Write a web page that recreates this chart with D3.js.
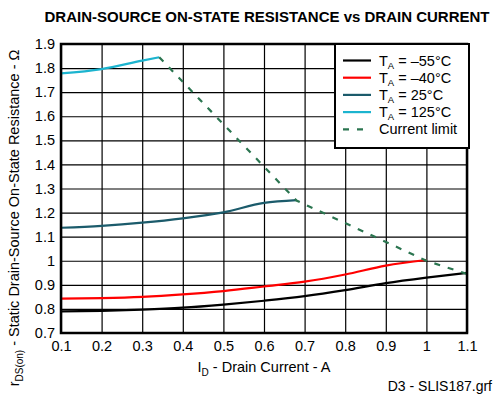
<!DOCTYPE html>
<html>
<head>
<meta charset="utf-8">
<script src="https://cdn.jsdelivr.net/npm/d3@7"></script>
<style>
  body { margin: 0; background: #fff; }
  text { font-family: "Liberation Sans", Arial, sans-serif; fill: #000; }
</style>
</head>
<body>
<div class="chart"></div>
<script>
// Drain current (A) and rDS(on) (ohm) for each ambient temperature
var xM55 = [0.1, 0.2, 0.3, 0.4, 0.5, 0.6, 0.7, 0.8, 0.9, 1.0, 1.1];
var yM55 = [0.79, 0.792, 0.797, 0.805, 0.818, 0.834, 0.853, 0.878, 0.907, 0.93, 0.95];

var xM40 = [0.1, 0.2, 0.3, 0.4, 0.5, 0.6, 0.7, 0.8, 0.9, 1.0];
var yM40 = [0.843, 0.845, 0.85, 0.86, 0.874, 0.893, 0.913, 0.943, 0.98, 1.003];

var x25 = [0.1, 0.2, 0.3, 0.4, 0.5, 0.6, 0.68];
var y25 = [1.137, 1.145, 1.158, 1.176, 1.201, 1.24, 1.252];

var x125 = [0.1, 0.2, 0.3, 0.342];
var y125 = [1.778, 1.796, 1.831, 1.845];

// current limit (dashed)
var xLimit = [0.342, 0.68, 1.0, 1.1];
var yLimit = [1.845, 1.25, 1.0, 0.945];

var xTicks = [0.1, 0.2, 0.3, 0.4, 0.5, 0.6, 0.7, 0.8, 0.9, 1.0, 1.1];
var xTickLabels = ["0.1", "0.2", "0.3", "0.4", "0.5", "0.6", "0.7", "0.8", "0.9", "1", "1.1"];
var yTicks = [0.7, 0.8, 0.9, 1.0, 1.1, 1.2, 1.3, 1.4, 1.5, 1.6, 1.7, 1.8, 1.9];
var yTickLabels = ["0.7", "0.8", "0.9", "1", "1.1", "1.2", "1.3", "1.4", "1.5", "1.6", "1.7", "1.8", "1.9"];

var legendTemps = ["\u201355\u00b0C", "\u201340\u00b0C", "25\u00b0C", "125\u00b0C"];

var svgWidth = 497;
var svgHeight = 400;
var margin = { top: 44, right: 30, bottom: 67, left: 61 };
var chartWidth = svgWidth - margin.left - margin.right;
var chartHeight = svgHeight - margin.top - margin.bottom;

var svg = d3.select(".chart")
  .append("svg")
  .attr("width", svgWidth)
  .attr("height", svgHeight);

var chartGroup = svg.append("g")
  .attr("transform", `translate(${margin.left}, ${margin.top})`);

var xScale = d3.scaleLinear().domain([0.1, 1.1]).range([0, chartWidth]);
var yScale = d3.scaleLinear().domain([0.7, 1.9]).range([chartHeight, 0]);

// grid
chartGroup.append("g")
  .attr("transform", "translate(0," + chartHeight + ")")
  .call(d3.axisBottom(xScale).tickValues(xTicks).tickSize(-chartHeight).tickFormat(""))
  .call(g => g.select(".domain").remove())
  .selectAll("line").attr("stroke", "#000").attr("stroke-width", 1.2);

chartGroup.append("g")
  .call(d3.axisLeft(yScale).tickValues(yTicks).tickSize(-chartWidth).tickFormat(""))
  .call(g => g.select(".domain").remove())
  .selectAll("line").attr("stroke", "#000").attr("stroke-width", 1.2);

// tick labels
var xAxis = chartGroup.append("g")
  .attr("transform", "translate(0," + chartHeight + ")")
  .call(d3.axisBottom(xScale).tickValues(xTicks).tickSize(0).tickPadding(8)
    .tickFormat((d, i) => xTickLabels[i]));
xAxis.select(".domain").remove();
xAxis.selectAll("text").style("font-size", "14.5px").style("font-family", "Liberation Sans, Arial, sans-serif");

var yAxis = chartGroup.append("g")
  .call(d3.axisLeft(yScale).tickValues(yTicks).tickSize(0).tickPadding(6)
    .tickFormat((d, i) => yTickLabels[i]));
yAxis.select(".domain").remove();
yAxis.selectAll("text").style("font-size", "14.5px").style("font-family", "Liberation Sans, Arial, sans-serif");

// series
function series(xs, ys) {
  return xs.map((x, i) => [x, ys[i]]);
}
var curve = d3.line()
  .x(d => xScale(d[0]))
  .y(d => yScale(d[1]))
  .curve(d3.curveMonotoneX);
var straight = d3.line()
  .x(d => xScale(d[0]))
  .y(d => yScale(d[1]));

var lines = [
  { data: series(xM55, yM55), color: "#000000" },
  { data: series(xM40, yM40), color: "#ff0000" },
  { data: series(x25, y25), color: "#1b5b6b" },
  { data: series(x125, y125), color: "#1cb4cf" }
];

chartGroup.selectAll(".series")
  .data(lines)
  .enter().append("path")
  .attr("class", "series")
  .attr("fill", "none")
  .attr("stroke", d => d.color)
  .attr("stroke-width", 2.2)
  .attr("d", d => curve(d.data));

chartGroup.append("path")
  .datum(series(xLimit, yLimit))
  .attr("fill", "none")
  .attr("stroke", "#2b7550")
  .attr("stroke-width", 2.2)
  .attr("stroke-dasharray", "6,8")
  .attr("d", straight);

// frame
chartGroup.append("rect")
  .attr("width", chartWidth)
  .attr("height", chartHeight)
  .attr("fill", "none")
  .attr("stroke", "#000")
  .attr("stroke-width", 2.5);

// legend
var legend = chartGroup.append("g")
  .attr("transform", "translate(" + (chartWidth - 132) + ",0)");
legend.append("rect")
  .attr("width", 134)
  .attr("height", 104)
  .attr("fill", "#fff")
  .attr("stroke", "#000")
  .attr("stroke-width", 2);

var legendItems = lines.map((l, i) => ({ color: l.color, temp: legendTemps[i], dash: null }))
  .concat([{ color: "#2b7550", temp: null, dash: "6,8" }]);

var rows = legend.selectAll(".row")
  .data(legendItems)
  .enter().append("g")
  .attr("class", "row")
  .attr("transform", (d, i) => "translate(0," + (16.5 + i * 17.2) + ")");

rows.append("line")
  .attr("x1", 8).attr("x2", 36)
  .attr("stroke", d => d.color)
  .attr("stroke-width", 2.2)
  .attr("stroke-dasharray", d => d.dash);

var labels = rows.append("text")
  .attr("x", 44)
  .attr("y", 5)
  .style("font-size", "14.5px");
labels.each(function(d) {
  var t = d3.select(this);
  if (d.temp) {
    t.append("tspan").text("T");
    t.append("tspan").attr("dy", 3).style("font-size", "9.5px").text("A");
    t.append("tspan").attr("dy", -3).text(" = " + d.temp);
  } else {
    t.text("Current limit");
  }
});

// title
svg.append("text")
  .attr("x", 267)
  .attr("y", 22)
  .attr("text-anchor", "middle")
  .style("font-size", "15px")
  .style("font-weight", "bold")
  .text("DRAIN-SOURCE ON-STATE RESISTANCE vs DRAIN CURRENT");

// x axis label
var xLabel = svg.append("text")
  .attr("x", margin.left + chartWidth / 2)
  .attr("y", 372)
  .attr("text-anchor", "middle")
  .style("font-size", "14.5px");
xLabel.append("tspan").text("I");
xLabel.append("tspan").attr("dy", 4).style("font-size", "10px").text("D");
xLabel.append("tspan").attr("dy", -4).text(" - Drain Current - A");

// y axis label
var yLabel = svg.append("text")
  .attr("transform", "translate(19," + 218 + ") rotate(-90)")
  .attr("text-anchor", "middle")
  .style("font-size", "14.5px");
yLabel.append("tspan").text("r");
yLabel.append("tspan").attr("dy", 4).style("font-size", "10px").text("DS(on)");
yLabel.append("tspan").attr("dy", -4).text(" - Static Drain-Source On-State Resistance - \u03a9");

// figure id
svg.append("text")
  .attr("x", 492)
  .attr("y", 391)
  .attr("text-anchor", "end")
  .style("font-size", "14px")
  .text("D3 - SLIS187.grf");
</script>
</body>
</html>
